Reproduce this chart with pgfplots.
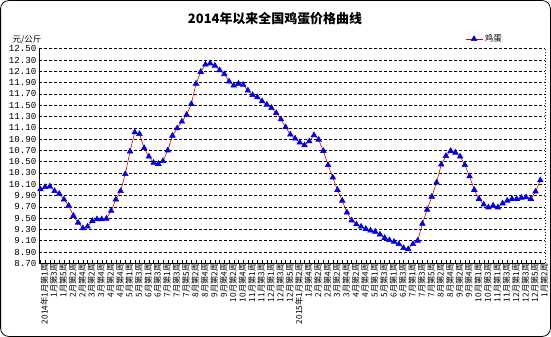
\documentclass[border=0pt]{standalone}
\usepackage{fontspec}
\usepackage{pgfplots}
\pgfplotsset{compat=1.18}
\setmainfont{Liberation Sans}
\setmonofont{Liberation Mono}
\newfontfamily\cjk{Noto Sans CJK SC}
\definecolor{lineRed}{RGB}{220,0,0}
\definecolor{markBlue}{RGB}{0,0,230}
\begin{document}
\begin{tikzpicture}
\useasboundingbox (0,0) rectangle (551bp,337bp);
\draw[black, line width=0.8bp, rounded corners=8bp] (0.6bp,0.6bp) rectangle (550.4bp,336.4bp);
\node[font=\cjk\bfseries\fontsize{13}{13}\selectfont] at (275bp,318bp) {2014年以来全国鸡蛋价格曲线};
\node[font=\cjk\fontsize{8.5}{9}\selectfont] at (27bp,297bp) {元/公斤};
\begin{axis}[
  at={(39bp,73.7bp)}, anchor=south west,
  scale only axis, width=506bp, height=214.6bp,
  xmin=-0.3, xmax=107, ymin=8.7, ymax=12.5,
  axis lines=left, axis line style={-, black, line width=0.6bp},
  ytick={8.7,8.9,9.1,9.3,9.5,9.7,9.9,10.1,10.3,10.5,10.7,10.9,11.1,11.3,11.5,11.7,11.9,12.1,12.3,12.5},
  ymajorgrids, grid style={black, line width=0.5bp, dash pattern=on 3bp off 2bp},
  ytick style={draw=none},
  yticklabel style={font=\ttfamily\fontsize{9.2}{9}\selectfont, xshift=1bp},
  /pgf/number format/.cd, fixed, fixed zerofill, precision=2, assume math mode=true,
  /pgfplots/.cd,
  xtick={0,2,...,106},
  minor x tick num=1,
  tick align=inside,
  major tick length=3bp, minor tick length=3bp,
  xtick style={black, line width=0.4bp},
  xticklabels={{2014年1月第1周},1月第3周,1月第5周,2月第2周,2月第4周,3月第2周,3月第4周,4月第2周,4月第4周,5月第1周,5月第3周,6月第1周,6月第3周,7月第1周,7月第3周,7月第5周,8月第2周,8月第4周,9月第2周,9月第4周,10月第2周,10月第4周,11月第1周,11月第3周,12月第1周,12月第3周,12月第5周,{2015年1月第2周},1月第4周,2月第2周,2月第4周,3月第2周,3月第4周,4月第2周,4月第4周,5月第1周,5月第3周,6月第1周,6月第3周,7月第1周,7月第3周,7月第5周,8月第2周,8月第4周,9月第2周,9月第4周,10月第1周,10月第3周,11月第1周,11月第3周,12月第1周,12月第3周,12月第5周,1月第2周},
  xticklabel style={rotate=90, anchor=east, font=\cjk\fontsize{8.3}{8.3}\selectfont, inner sep=0pt},
  x tick label style={yshift=-4bp},
  legend style={draw=none, fill=none, at={(0.84,1.045)}, anchor=west, font=\cjk\fontsize{8.5}{9}\selectfont, inner sep=1bp},
  legend cell align=left,
  clip=false,
]
\addplot[lineRed, line width=0.6bp, mark=triangle*, mark size=3.2bp, mark options={fill=markBlue, draw=markBlue, solid}] table[x=i, y=v] {
i v
0 10.01
1 10.05
2 10.06
3 9.98
4 9.93
5 9.83
6 9.72
7 9.54
8 9.42
9 9.32
10 9.35
11 9.45
12 9.48
13 9.48
14 9.49
15 9.63
16 9.83
17 9.98
18 10.28
19 10.68
20 11.02
21 10.99
22 10.74
23 10.59
24 10.48
25 10.46
26 10.51
27 10.70
28 10.96
29 11.09
30 11.21
31 11.33
32 11.52
33 11.88
34 12.09
35 12.22
36 12.24
37 12.20
38 12.12
39 12.05
40 11.92
41 11.85
42 11.88
43 11.86
44 11.76
45 11.68
46 11.64
47 11.57
48 11.51
49 11.45
50 11.36
51 11.25
52 11.11
53 10.98
54 10.91
55 10.84
56 10.79
57 10.86
58 10.97
59 10.89
60 10.69
61 10.44
62 10.22
63 10.00
64 9.81
65 9.60
66 9.46
67 9.39
68 9.35
69 9.31
70 9.28
71 9.26
72 9.21
73 9.15
74 9.11
75 9.08
76 9.04
77 8.97
78 8.95
79 9.04
80 9.10
81 9.40
82 9.65
83 9.88
84 10.13
85 10.45
86 10.60
87 10.69
88 10.66
89 10.59
90 10.44
91 10.24
92 10.00
93 9.84
94 9.74
95 9.69
96 9.72
97 9.69
98 9.76
99 9.81
100 9.84
101 9.84
102 9.86
103 9.87
104 9.84
105 9.97
106 10.17
};
\addlegendentry{鸡蛋}
\draw[black, line width=0.5bp, dash pattern=on 1.5bp off 1.5bp] (rel axis cs:1,0) -- (rel axis cs:1,1);
\end{axis}
\end{tikzpicture}
\end{document}
